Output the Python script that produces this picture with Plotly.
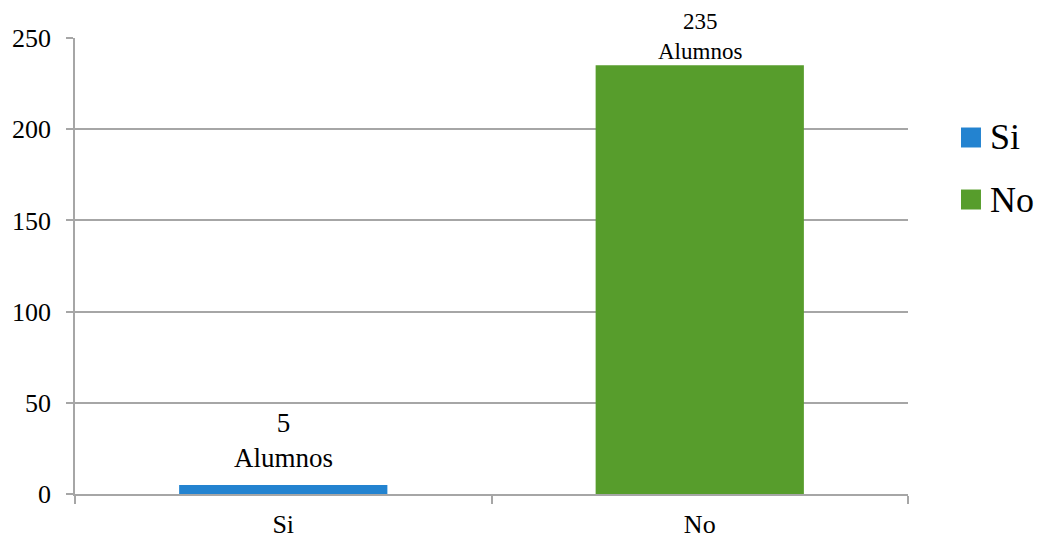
import plotly.graph_objects as go

# Survey answers and counts
categories = ["Si", "No"]
counts = [5, 235]
unit_label = "Alumnos"
colors = ["#2383d0", "#579d2c"]
y_ticks = [0, 50, 100, 150, 200, 250]

FONT = "Liberation Serif"
GRID = "#a6a6a6"

fig = go.Figure()
for cat, val, col in zip(categories, counts, colors):
    fig.add_trace(go.Bar(
        x=[cat], y=[val], name=cat,
        marker=dict(color=col, line=dict(width=0)),
        width=0.5, offsetgroup="g", showlegend=False,
    ))

# value labels above each bar
label_shift = [10, -1]
label_size = [27, 23]
for cat, val, dy, fs in zip(categories, counts, label_shift, label_size):
    fig.add_annotation(
        x=cat, y=val, xref="x", yref="y",
        text=f"{val}<br>{unit_label}", showarrow=False,
        yanchor="bottom", yshift=dy,
        font=dict(family=FONT, size=fs, color="#000"),
    )

# legend drawn as squares with labels to the right of the plot
legend_y = [0.7818, 0.6458]
for cat, col, ly in zip(categories, colors, legend_y):
    fig.add_shape(
        type="rect", xref="paper", yref="paper",
        x0=1.0636, x1=1.0876, y0=ly - 0.0219, y1=ly + 0.0219,
        fillcolor=col, line=dict(width=0),
    )
    fig.add_annotation(
        x=1.096, y=ly, xref="paper", yref="paper",
        text=cat, showarrow=False, xanchor="left", yanchor="middle",
        font=dict(family=FONT, size=36, color="#000"),
    )

fig.update_layout(
    width=1040, height=538,
    margin=dict(l=75, r=132, t=38, b=44),
    paper_bgcolor="white", plot_bgcolor="white",
    barmode="overlay",
    showlegend=False,
    font=dict(family=FONT, color="#000"),
)
fig.update_xaxes(
    type="category", automargin=False,
    showgrid=False,
    showline=True, linecolor=GRID, linewidth=1.5,
    ticks="outside", tickson="boundaries", ticklen=8, tickcolor=GRID, tickwidth=1.5,
    tickfont=dict(family=FONT, size=26, color="#000"),
    ticklabelstandoff=6,
)
fig.update_yaxes(
    range=[0, 250], tickvals=y_ticks, automargin=False,
    showgrid=True, gridcolor=GRID, gridwidth=1.5,
    showline=True, linecolor=GRID, linewidth=1.5,
    ticks="outside", ticklen=7, tickcolor=GRID, tickwidth=1.5,
    tickfont=dict(family=FONT, size=26, color="#000"),
    ticklabelstandoff=10,
    zeroline=False,
)

fig.write_html("out.html")
